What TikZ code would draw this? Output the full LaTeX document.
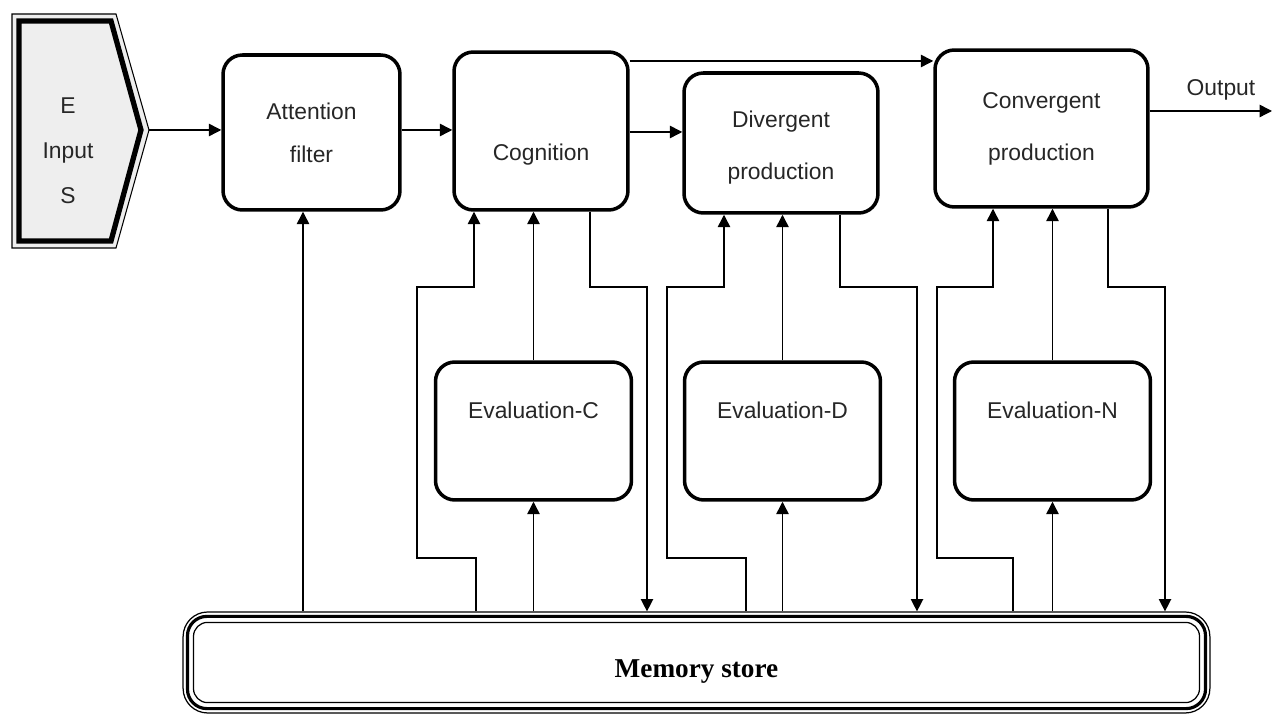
\documentclass[tikz,border=0pt]{standalone}
\usepackage{fontspec}
\setmainfont{Liberation Sans}
\newfontfamily\memfont{Liberation Serif}
\usetikzlibrary{arrows.meta, calc}
\tikzset{
	tri/.tip={Triangle[length=7pt, width=7pt]},
	% 1. Rounded process boxes
	box/.style={
		draw, line width=2pt, rounded corners=11pt,
		inner sep=0pt, align=center, text=black!85,
		font=\fontsize{13pt}{24pt}\selectfont
	},
	% 2. Evaluation boxes (same look, fixed size)
	evalbox/.style={box, minimum width=3.92cm, minimum height=2.76cm},
	% 3. Thin connectors
	conn/.style={line width=0.8pt}
}

\begin{document}
\begin{tikzpicture}[x=0.02cm, y=-0.02cm]
	\useasboundingbox (0,0) rectangle (1276,715);

	% Input arrow shape
	\fill[gray!13] (12,14) -- (116,14) -- (149,130) -- (116,248) -- (12,248) -- cycle;
	\draw[line width=0.6pt] (12,14) -- (116,14) -- (149,130) -- (116,248) -- (12,248) -- cycle;
	\draw[line width=3pt, line join=miter] (19,21) -- (111,21) -- (141,130) -- (111,241) -- (19,241) -- cycle;
	\coordinate (inTip) at (149,130);
	\node[align=center, text=black!85, font=\fontsize{13pt}{25.5pt}\selectfont] (input) at (68,151) {E\\Input\\S};

	% Process boxes
	\node[box, minimum width=3.54cm, minimum height=3.1cm] (attn) at (311.5,132.5) {Attention\strut\\\strut filter};
	\node[box, minimum width=3.48cm, minimum height=3.16cm] (cog) at (541,131) {\strut\\\strut Cognition};
	\node[box, minimum width=3.88cm, minimum height=2.8cm, font=\fontsize{13pt}{29.5pt}\selectfont] (div) at (781,143) {Divergent\strut\\\strut production};
	\node[box, minimum width=4.26cm, minimum height=3.14cm, font=\fontsize{13pt}{29.5pt}\selectfont] (conv) at (1041.5,128.5) {Convergent\\production};

	\node[evalbox] (evC) at (533.5,431) {Evaluation-C\strut\\\strut};
	\node[evalbox] (evD) at (782.5,431) {Evaluation-D\strut\\\strut};
	\node[evalbox] (evN) at (1052.5,431) {Evaluation-N\strut\\\strut};

	% Memory store (triple border)
	\node[draw, line width=0.7pt, rounded corners=14pt, minimum width=20.54cm, minimum height=2.02cm,
		font=\memfont\bfseries\fontsize{15.5pt}{18pt}\selectfont] (mem) at (696.5,662.5) {\raisebox{-8.5pt}[0pt][0pt]{Memory store}};
	\draw[line width=1.8pt, rounded corners=11pt] ($(mem.south west)+(5,-5)$) rectangle ($(mem.north east)+(-5,5)$);
	\draw[line width=0.7pt, rounded corners=8pt] ($(mem.south west)+(11,-11)$) rectangle ($(mem.north east)+(-11,11)$);

	% Main flow
	\draw[conn, -tri] (inTip) -- (inTip -| attn.west);
	\draw[conn, -tri] (attn.east |- 0,130) -- (cog.west |- 0,130);
	\draw[conn, -tri] (cog.east |- 0,132) -- (div.west |- 0,132);
	\draw[conn, -tri] (cog.east |- 0,61) -- (conv.west |- 0,61);
	\coordinate (outEnd) at (1272,111);
	\draw[conn, -tri] (conv.east |- outEnd) -- (outEnd);
	\node[text=black!85, font=\fontsize{13pt}{15pt}\selectfont] (outLbl) at (1221,90) {Output};

	% Memory into the filter
	\draw[conn, -tri] (mem.north -| 303,0) -- (attn.south -| 303,0);

	% Loops of each stage through memory and evaluation
	\foreach \b/\e/\xa/\xb/\xc/\xd/\xe in {cog/evC/417/476/474/590/647, div/evD/667/746/724/840/917, conv/evN/937/1013/993/1108/1165}{
		\draw[conn, -tri] (mem.north -| \xb,0) |- (\xa,558) |- (\xc,287) -- (\b.south -| \xc,0);
		\draw[conn, -tri] (\e.north) -- (\e.north |- \b.south);
		\draw[conn, -tri] (mem.north -| \e.south) -- (\e.south);
		\draw[conn, -tri] (\b.south -| \xd,0) |- (\xe,287) -- (mem.north -| \xe,0);
	}
\end{tikzpicture}
\end{document}
